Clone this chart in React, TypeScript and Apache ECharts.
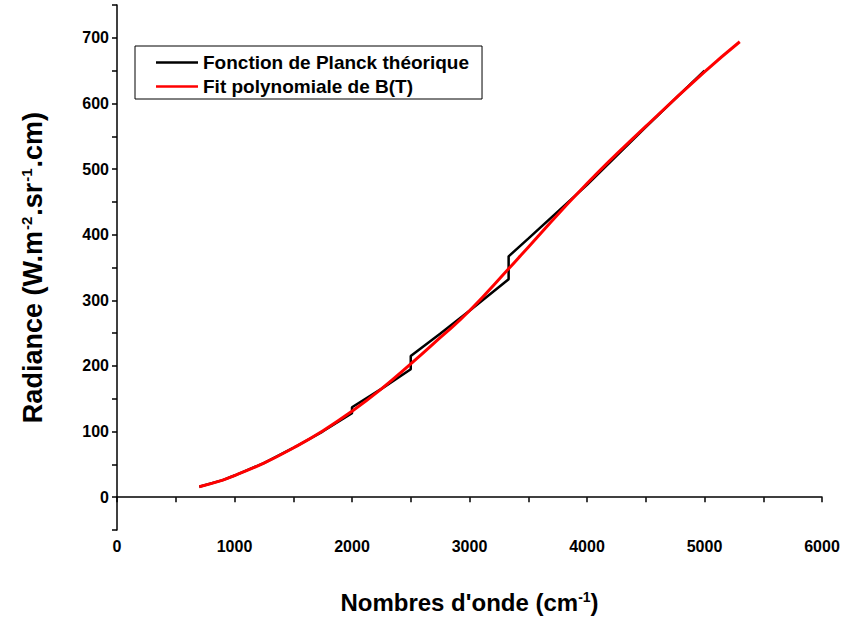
import React, { useEffect, useRef } from "react";
import * as echarts from "echarts";

const redX = [700, 900, 1000, 1250, 1500, 1750, 2000, 2250, 2500, 2750, 3000, 3333, 3500, 4000, 4500, 5000, 5300];
const redY = [16, 26, 33, 52, 75, 101, 131, 165, 203, 243, 284, 348, 381, 478, 565, 648, 694];

const blackSegX = [
  [700, 900, 1000, 1250, 1500, 1750, 2000],
  [2000, 2250, 2500],
  [2500, 2750, 3000, 3333],
  [3333, 3500, 4000, 4500, 5000],
];
const blackSegY = [
  [16, 26, 33, 52, 75, 100, 128],
  [137, 165, 195],
  [215, 249, 284, 332],
  [367, 394, 476, 564, 650],
];

const FONT = "Arial, 'Liberation Sans', sans-serif";

export default function App() {
  const ref = useRef<HTMLDivElement>(null);
  useEffect(() => {
    const chart = echarts.init(ref.current!, null, { renderer: "svg" });
    const blackData: any[] = [];
    blackSegX.forEach((xs, i) => {
      if (i > 0) blackData.push([xs[0], blackSegY[i - 1][blackSegY[i - 1].length - 1]]);
      xs.forEach((x, j) => blackData.push([x, blackSegY[i][j]]));
    });
    const sup = { fontSize: 14, fontWeight: "bold", fontFamily: FONT, color: "#000", padding: [0, 0, 11, 0] };
    const supY = { fontSize: 15, fontWeight: "bold", fontFamily: FONT, color: "#000", padding: [0, 1, 12, 1] };
    chart.setOption({
      animation: false,
      grid: { left: 117, right: 23, top: 5, bottom: 91 },
      legend: {
        left: 135,
        top: 46,
        orient: "vertical",
        borderColor: "#000",
        borderWidth: 1,
        padding: [7, 13, 3, 21],
        itemWidth: 42,
        itemHeight: 14,
        itemGap: 5,
        icon: "path://M0,6 L42,6 L42,8.4 L0,8.4 Z",
        textStyle: { fontFamily: FONT, fontWeight: "bold", fontSize: 19, color: "#000" },
        data: ["Fonction de Planck théorique", "Fit polynomiale de B(T)"],
      },
      xAxis: {
        type: "value",
        min: 0,
        max: 6000,
        interval: 500,
        name: "Nombres d'onde (cm{sup|-1})",
        nameLocation: "middle",
        nameGap: 60,
        nameTextStyle: { fontFamily: FONT, fontWeight: "bold", fontSize: 24, color: "#000", rich: { sup } },
        axisLine: { lineStyle: { color: "#000", width: 1.5 } },
        axisTick: { lineStyle: { color: "#000", width: 1.5 }, length: 5 },
        axisLabel: {
          fontFamily: FONT, fontWeight: "bold", fontSize: 16, color: "#000", margin: 8,
          formatter: (v: number) => (v % 1000 === 0 ? String(v) : ""),
        },
        splitLine: { show: false },
      },
      yAxis: {
        type: "value",
        min: -50,
        max: 750,
        interval: 50,
        name: "Radiance (W.m{sup|-2}.sr{sup|-1}.cm)",
        nameLocation: "middle",
        nameGap: 71,
        nameRotate: 90,
        nameTextStyle: { fontFamily: FONT, fontWeight: "bold", fontSize: 27, color: "#000", rich: { sup: supY } },
        axisLine: { lineStyle: { color: "#000", width: 1.5 } },
        axisTick: { lineStyle: { color: "#000", width: 1.5 }, length: 5 },
        axisLabel: {
          fontFamily: FONT, fontWeight: "bold", fontSize: 16, color: "#000", margin: 8,
          formatter: (v: number) => (v % 100 === 0 ? String(v) : ""),
        },
        splitLine: { show: false },
      },
      series: [
        {
          name: "Fonction de Planck théorique",
          type: "line",
          data: blackData,
          showSymbol: false,
          smooth: false,
          lineStyle: { color: "#000", width: 2.5 },
          itemStyle: { color: "#000" },
        },
        {
          name: "Fit polynomiale de B(T)",
          type: "line",
          data: redX.map((x, i) => [x, redY[i]]),
          showSymbol: false,
          smooth: true,
          lineStyle: { color: "#ff0000", width: 3 },
          itemStyle: { color: "#ff0000" },
        },
      ],
    });
    return () => chart.dispose();
  }, []);
  return <div ref={ref} style={{ width: 845, height: 621, position: "absolute", left: 0, top: 0 }} />;
}
